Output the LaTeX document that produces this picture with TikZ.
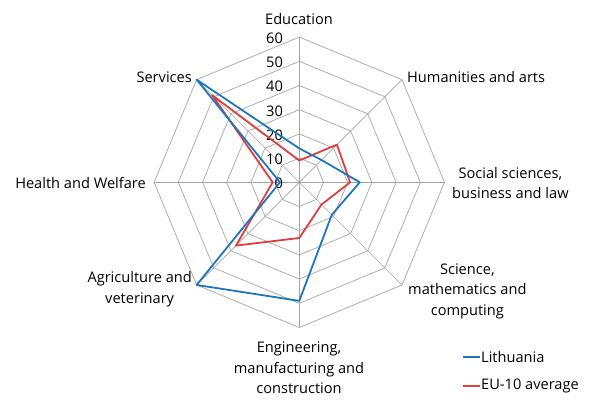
\documentclass[tikz,border=0pt]{standalone}
\usepackage{fontspec}
\setmainfont{Open Sans}
\definecolor{litblue}{RGB}{30,118,192}
\definecolor{eured}{RGB}{222,62,62}
\tikzset{
  gridline/.style={gray!70, line width=0.7pt},
  litline/.style={litblue, line width=1.8pt, line join=round},
  euline/.style={eured, line width=1.8pt, line join=round},
  axislabel/.style={align=center, inner sep=1pt},
}
\begin{document}
\begin{tikzpicture}[x=1pt,y=1pt,font=\fontsize{14.6}{20.5}\selectfont]
\useasboundingbox (0,0) rectangle (598,402);
\coordinate (c) at (299.3,219.7);
\begin{scope}[shift={(c)},scale=2.42]
  % rings of the web
  \foreach \r in {10,20,...,60}
    \draw[gridline] (90:\r) \foreach \a in {45,0,-45,-90,-135,180,135} {-- (\a:\r)} -- cycle;
  % spokes
  \foreach \a in {90,45,0,-45,-90,-135,180,135}
    \draw[gridline] (0,0) -- (\a:60);
  % scale numbers
  \foreach \r in {0,10,...,60}
    \node[anchor=east, inner sep=1pt] (num\r) at (-6.3,\r-0.5) {\r};
  % series
  \draw[euline] (90:9) -- (45:22) -- (0:21) -- (-45:13) -- (-90:23)
    -- (-135:37) -- (180:11) -- (135:51) -- cycle;
  \draw[litline] (90:14) -- (45:13) -- (0:25) -- (-45:19) -- (-90:49)
    -- (-135:60) -- (180:8) -- (135:60) -- cycle;
\end{scope}
% category labels
\node[axislabel] (edu) at (299,383) {Education};
\node[axislabel, anchor=west] (hum) at (406,325) {Humanities and arts};
\node[axislabel, anchor=west] (soc) at (451,219) {Social sciences,\\business and law};
\node[axislabel, anchor=west] (sci) at (407,111) {Science,\\mathematics and\\computing};
\node[axislabel] (eng) at (299,34) {Engineering,\\manufacturing and\\construction};
\node[axislabel, anchor=east] (agr) at (193,113) {Agriculture and\\veterinary};
\node[axislabel, anchor=east] (hea) at (147,219) {Health and Welfare};
\node[axislabel, anchor=east] (ser) at (193,325) {Services};
% legend
\coordinate (litkey) at (463,45);
\node[anchor=west, inner sep=1pt] (littext) at (480,45) {Lithuania};
\draw[litline] (litkey) -- (littext.west);
\coordinate (eukey) at (463,16);
\node[anchor=west, inner sep=1pt] (eutext) at (480,16) {EU-10 average};
\draw[euline] (eukey) -- (eutext.west);
\end{tikzpicture}
\end{document}
